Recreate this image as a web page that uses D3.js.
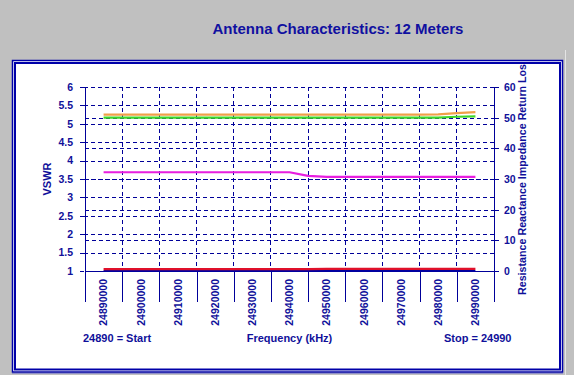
<!DOCTYPE html>
<meta charset="utf-8">
<head>
<style>
body { margin: 0; background: #c0c0c0; }
svg { display: block; font-family: "Liberation Sans", Arial, sans-serif; font-weight: bold; }
.grid line { stroke: #000099; stroke-width: 1; stroke-dasharray: 4,3; shape-rendering: crispEdges; }
.axis path { display: none; }
.axis line { stroke: #000099; shape-rendering: crispEdges; }
.axis text { fill: #10109a; font-size: 10.5px; font-weight: bold; font-family: "Liberation Sans", Arial, sans-serif; }
.series { fill: none; stroke-width: 2.2px; stroke-linejoin: round; }
</style>
</head>
<body>
<svg width="574" height="375"></svg>
<script src="https://cdn.jsdelivr.net/npm/d3@7"></script>
<script>
// frequencies in kHz, one point every 5 kHz
var freqs = [24890, 24895, 24900, 24905, 24910, 24915, 24920, 24925, 24930, 24935, 24940,
             24945, 24950, 24955, 24960, 24965, 24970, 24975, 24980, 24985, 24990];
var tickLabels = ["24890000", "24900000", "24910000", "24920000", "24930000", "24940000",
                  "24950000", "24960000", "24970000", "24980000", "24990000"];
var labelFreqs = [24890, 24900, 24910, 24920, 24930, 24940, 24950, 24960, 24970, 24980, 24990];
var vswr       = [1.05, 1.05, 1.05, 1.05, 1.05, 1.05, 1.05, 1.05, 1.05, 1.05, 1.05,
                  1.05, 1.06, 1.06, 1.06, 1.06, 1.06, 1.06, 1.06, 1.06, 1.06];
var resistance = [50.0, 50.0, 50.0, 50.0, 50.0, 50.0, 50.0, 50.0, 50.0, 50.0, 50.0,
                  50.0, 50.0, 50.0, 50.0, 50.0, 50.0, 50.0, 50.0, 50.3, 50.4];
var reactance  = [0, 0, 0, 0, 0, 0, 0, 0, 0, 0, 0, 0, 0, 0, 0, 0, 0, 0, 0, 0, 0];
var impedance  = [51.0, 51.0, 51.0, 51.0, 51.0, 51.0, 51.0, 51.0, 51.0, 51.0, 51.0,
                  51.0, 51.0, 51.0, 51.0, 51.0, 51.0, 51.0, 51.1, 51.5, 51.8];
var returnLoss = [32.2, 32.2, 32.2, 32.2, 32.2, 32.2, 32.2, 32.2, 32.2, 32.2, 32.2,
                  31.0, 30.7, 30.7, 30.7, 30.7, 30.7, 30.7, 30.7, 30.7, 30.7];
var leftTicks = [1, 1.5, 2, 2.5, 3, 3.5, 4, 4.5, 5, 5.5, 6];
var rightTicks = [0, 10, 20, 30, 40, 50, 60];

var svg = d3.select("svg");
var textCol = "#10109a";

// title
svg.append("text").attr("x", 338).attr("y", 33.5).attr("text-anchor", "middle")
    .attr("font-size", "15px").attr("fill", "#1010a0")
    .text("Antenna Characteristics: 12 Meters");

// panel with double border
svg.append("rect").attr("x", 12.5).attr("y", 60.5).attr("width", 550).attr("height", 311.5)
    .attr("fill", "#fff").attr("stroke", "#0000a8").attr("stroke-width", 1.5);
svg.append("rect").attr("x", 15).attr("y", 63).attr("width", 545).attr("height", 306.5)
    .attr("fill", "#fff").attr("stroke", "#0000a8").attr("stroke-width", 2);
svg.append("line").attr("x1", 12).attr("x2", 563).attr("y1", 373.5).attr("y2", 373.5)
    .attr("stroke", "#9090c8");
svg.append("line").attr("x1", 565.5).attr("x2", 565.5).attr("y1", 50).attr("y2", 375)
    .attr("stroke", "#e4e4e4");

svg.append("clipPath").attr("id", "panel").append("rect")
    .attr("x", 16).attr("y", 64).attr("width", 543).attr("height", 304.5);

var x = d3.scaleLinear().domain([24885, 24995]).range([85, 494]);
var yL = d3.scaleLinear().domain([1, 6]).range([271, 87]);
var yR = d3.scaleLinear().domain([0, 60]).range([271, 87]);

// gridlines
var grid = svg.append("g").attr("class", "grid");
grid.selectAll(".hl").data(leftTicks.slice(1)).enter().append("line")
    .attr("x1", 84).attr("x2", 494).attr("y1", d => Math.round(yL(d)) + 0.5).attr("y2", d => Math.round(yL(d)) + 0.5);
grid.selectAll(".hr").data(rightTicks.slice(1, -1)).enter().append("line")
    .attr("x1", 85).attr("x2", 494).attr("y1", d => Math.round(yR(d)) + 0.5).attr("y2", d => Math.round(yR(d)) + 0.5);
var between = labelFreqs.slice(0, -1).map(d => d + 5);
grid.selectAll(".v").data(between).enter().append("line")
    .attr("x1", d => x(d)).attr("x2", d => x(d)).attr("y1", 87).attr("y2", 271);

// axes
svg.append("g").attr("class", "axis").attr("transform", "translate(84,0)")
    .call(d3.axisLeft(yL).tickValues(leftTicks).tickSize(4).tickPadding(7).tickFormat(d3.format("")));
svg.append("g").attr("class", "axis").attr("transform", "translate(494,0)")
    .call(d3.axisRight(yR).tickValues(rightTicks).tickSize(5).tickPadding(5));

var xa = svg.append("g").attr("class", "axis");
xa.append("line").attr("x1", 85).attr("x2", 85).attr("y1", 87).attr("y2", 302);
xa.append("line").attr("x1", 494).attr("x2", 494).attr("y1", 87).attr("y2", 302);
xa.append("line").attr("x1", 85).attr("x2", 494).attr("y1", 271.5).attr("y2", 271.5);
xa.selectAll(".t").data(between).enter().append("line")
    .attr("x1", d => Math.round(x(d)) + 0.5).attr("x2", d => Math.round(x(d)) + 0.5)
    .attr("y1", 271).attr("y2", 302);
xa.selectAll("text").data(labelFreqs).enter().append("text")
    .attr("transform", d => "translate(" + x(d) + ",279) rotate(-90)")
    .attr("text-anchor", "end").attr("dy", "0.36em")
    .text((d, i) => tickLabels[i]);

// series
var lineL = d3.line().x((d, i) => x(freqs[i])).y(d => yL(d));
var lineR = d3.line().x((d, i) => x(freqs[i])).y(d => yR(d));
svg.append("path").datum(reactance).attr("class", "series").attr("stroke", "#0000a0").attr("stroke-width", 1.5).attr("d", lineR);
svg.append("path").datum(returnLoss).attr("class", "series").attr("stroke", "#e81ee0").attr("d", lineR);
svg.append("path").datum(impedance).attr("class", "series").attr("stroke", "#f0a048").attr("d", lineR);
svg.append("path").datum(resistance).attr("class", "series").attr("stroke", "#3ed828").attr("d", lineR);
svg.append("path").datum(vswr).attr("class", "series").attr("stroke", "#e0102a").attr("stroke-width", 2.6).attr("d", lineL);

// axis titles
svg.append("text").attr("transform", "translate(50.5,179) rotate(-90)")
    .attr("text-anchor", "middle").attr("font-size", "11px").attr("fill", textCol).text("VSWR");
svg.append("g").attr("clip-path", "url(#panel)").append("text")
    .attr("transform", "translate(526,295) rotate(-90)")
    .attr("font-size", "10.7px").attr("fill", textCol)
    .text("Resistance Reactance Impedance Return Loss");

// footer labels
svg.append("text").attr("x", 83).attr("y", 341.5).attr("font-size", "11px").attr("fill", textCol).text("24890 = Start");
svg.append("text").attr("x", 289.5).attr("y", 341.5).attr("text-anchor", "middle").attr("font-size", "11px").attr("fill", textCol).text("Frequency (kHz)");
svg.append("text").attr("x", 511.5).attr("y", 341.5).attr("text-anchor", "end").attr("font-size", "11px").attr("fill", textCol).text("Stop = 24990");
</script>
</body>
</html>
